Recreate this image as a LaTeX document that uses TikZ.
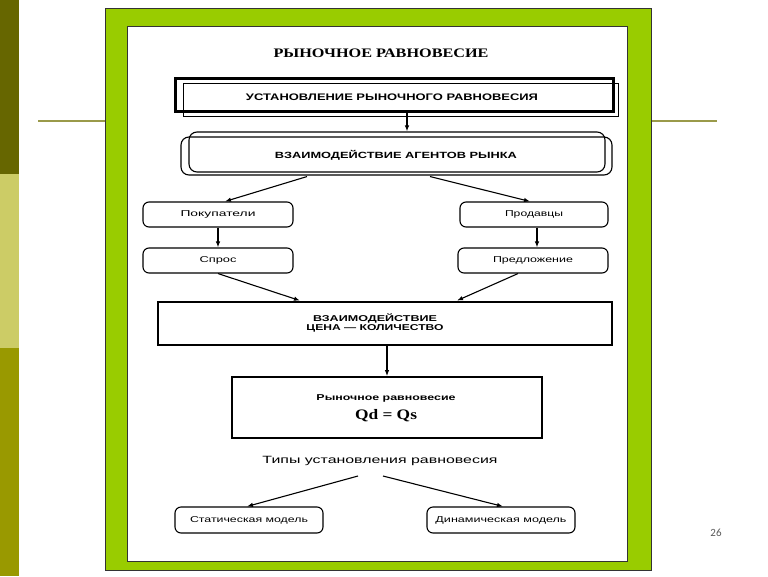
\documentclass[tikz,border=0pt]{standalone}
\usepackage{fontspec}
\setmainfont{Liberation Sans}
\newfontfamily\serifb{Liberation Serif}
\newfontfamily\pagefont{Carlito}
\usepackage{graphicx}
\usetikzlibrary{arrows.meta,calc}
\newcommand\fitw[2]{\resizebox{#1}{\height}{#2}}
\definecolor{barA}{HTML}{666600}
\definecolor{barB}{HTML}{CCCC66}
\definecolor{barC}{HTML}{999900}
\definecolor{rulec}{HTML}{9A9A4A}
\definecolor{frameg}{HTML}{99CC00}
\begin{document}
\begin{tikzpicture}[x=1pt,y=-1pt,
  arr/.style={-{Latex[length=6pt,width=4.5pt]},line width=1.1pt},
  rbox/.style={draw,rounded corners=6pt,line width=1.1pt,minimum height=25pt,inner sep=0pt},
  sqbox/.style={draw,inner sep=0pt},
  txt/.style={inner sep=0pt},
]
\useasboundingbox (0,0) rectangle (768,576);
\fill[white] (0,0) rectangle (768,576);
% side bars
\fill[barA] (0,0) rectangle (19,174);
\fill[barB] (0,174) rectangle (19,348);
\fill[barC] (0,348) rectangle (19,576);
% horizontal rules
\draw[rulec,line width=1.2pt] (38,121) -- (106,121);
\draw[rulec,line width=1.2pt] (651,121) -- (717,121);
% green frame
\filldraw[fill=frameg,draw=black!80,line width=0.8pt] (105,8) rectangle (651,570);
\filldraw[fill=white,draw=black!80,line width=0.8pt] (127,26) rectangle (627,561);
% title
\node[txt] (title) at (381,53) {\fitw{215pt}{\serifb\bfseries\fontsize{13}{14}\selectfont РЫНОЧНОЕ РАВНОВЕСИЕ}};
% box 1
\draw[line width=1pt] (183,83) rectangle (618,116);
\node[sqbox,line width=3pt,minimum width=438pt,minimum height=33pt] (b1) at (394,94.5) {};
\node[txt] (t1) at (392,97) {\fitw{292pt}{\bfseries\fontsize{9.5}{10}\selectfont УСТАНОВЛЕНИЕ РЫНОЧНОГО РАВНОВЕСИЯ}};
% box 2
\draw[line width=1.1pt,rounded corners=8pt] (181,137) rectangle (612,175);
\node[draw,line width=1.1pt,rounded corners=8pt,minimum width=416pt,minimum height=40pt] (b2) at (397,152) {};
\node[txt] (t2) at (396,155) {\fitw{242pt}{\bfseries\fontsize{9}{10}\selectfont ВЗАИМОДЕЙСТВИЕ АГЕНТОВ РЫНКА}};
% buyers / sellers
\node[rbox,minimum width=150pt] (pok) at (218,214.5) {\fitw{75pt}{\fontsize{8.5}{10}\selectfont Покупатели}};
\node[rbox,minimum width=150pt] (spr) at (218,260.5) {\fitw{37pt}{\fontsize{8.5}{10}\selectfont Спрос}};
\node[rbox,minimum width=148pt] (prod) at (534,214.5) {\fitw{58pt}{\fontsize{8.5}{10}\selectfont Продавцы}};
\node[rbox,minimum width=150pt] (pred) at (533,260.5) {\fitw{80pt}{\fontsize{8.5}{10}\selectfont Предложение}};
% box 3
\node[sqbox,line width=2.8pt,minimum width=454pt,minimum height=43pt] (b3) at (385,323.5) {};
\node[txt] (t3a) at (375,318) {\fitw{124pt}{\bfseries\fontsize{8.5}{10}\selectfont ВЗАИМОДЕЙСТВИЕ}};
\node[txt] (t3b) at (375,328.5) {\fitw{137pt}{\bfseries\fontsize{8.5}{10}\selectfont ЦЕНА --- КОЛИЧЕСТВО}};
% box 4
\node[sqbox,line width=1.8pt,minimum width=310pt,minimum height=61pt] (b4) at (387,407.5) {};
\node[txt] (t4a) at (386,398) {\fitw{139pt}{\bfseries\fontsize{8.5}{10}\selectfont Рыночное равновесие}};
\node[txt] (t4b) at (386,416) {\fitw{62pt}{\serifb\bfseries\fontsize{14.5}{16}\selectfont Qd = Qs}};
% types
\node[txt] (types) at (380,461) {\fitw{235pt}{\fontsize{10.5}{12}\selectfont Типы установления равновесия}};
\coordinate (tl) at (358,476);
\coordinate (tr) at (383,476);
\node[rbox,minimum width=148pt,minimum height=26pt] (stat) at (249,520) {\fitw{118pt}{\fontsize{8.5}{10}\selectfont Статическая модель}};
\node[rbox,minimum width=148pt,minimum height=26pt] (din) at (501,520) {\fitw{131pt}{\fontsize{8.5}{10}\selectfont Динамическая модель}};
% page number
\node[txt,text=black!65] (pg) at (716,533) {\pagefont\fontsize{11}{12}\selectfont 26};
% arrows
\draw[arr] ([xshift=13pt]b1.south) -- ([xshift=13pt]b1.south |- b2.north);
\draw[arr] ([xshift=-90pt,yshift=-4pt]b2.south) -- ([xshift=7pt]pok.north);
\draw[arr] ([xshift=33pt,yshift=-4pt]b2.south) -- ([xshift=-4pt]prod.north);
\draw[arr] (pok.south) -- (spr.north);
\draw[arr] ([xshift=3pt]prod.south) -- ([xshift=3pt]prod.south |- pred.north);
\draw[arr] (spr.south) -- ([xshift=-85pt]b3.north);
\draw[arr] ([xshift=-15pt]pred.south) -- ([xshift=72pt]b3.north);
\draw[arr] (b4.north |- b3.south) -- (b4.north);
\draw[arr] (tl) -- ([xshift=-2pt]stat.north);
\draw[arr] (tr) -- ([xshift=2pt]din.north);
\end{tikzpicture}
\end{document}
